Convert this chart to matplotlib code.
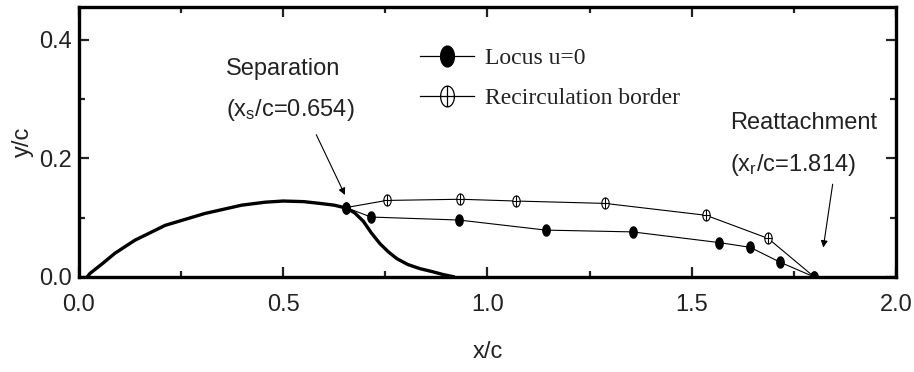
import numpy as np
import matplotlib
matplotlib.use('Agg')
import matplotlib.pyplot as plt
from matplotlib.path import Path
from matplotlib.lines import Line2D

plt.rcParams['font.family'] = ['Liberation Sans', 'DejaVu Sans']
plt.rcParams['mathtext.fontset'] = 'custom'
plt.rcParams['mathtext.rm'] = 'Liberation Sans'
plt.rcParams['mathtext.it'] = 'Liberation Sans'

# hump surface contour
hump_x = [0.02, 0.027, 0.06, 0.088, 0.137, 0.211, 0.308, 0.398, 0.455, 0.50, 0.55, 0.59,
          0.625, 0.655, 0.675, 0.696, 0.716, 0.737, 0.758, 0.778, 0.805, 0.835, 0.865, 0.892, 0.92]
hump_y = [0.0, 0.006, 0.024, 0.040, 0.062, 0.087, 0.107, 0.121, 0.126, 0.128, 0.127, 0.124,
          0.121, 0.116, 0.108, 0.094, 0.074, 0.056, 0.042, 0.031, 0.021, 0.014, 0.009, 0.004, 0.0]

# locus u=0 (filled symbols)
locus_x = [0.654, 0.715, 0.930, 1.143, 1.355, 1.567, 1.643, 1.716, 1.80]
locus_y = [0.117, 0.101, 0.096, 0.079, 0.076, 0.058, 0.050, 0.025, 0.0]

# recirculation border (open crossed symbols)
recirc_x = [0.654, 0.753, 0.933, 1.070, 1.288, 1.535, 1.687, 1.80]
recirc_y = [0.117, 0.129, 0.131, 0.128, 0.124, 0.104, 0.065, 0.0]

# elliptical markers, taller than wide
t = np.linspace(0, 2 * np.pi, 41)
ell = np.column_stack([0.33 * np.cos(t), 0.5 * np.sin(t)])
ell_path = Path(ell, closed=True)
cross_verts = np.vstack([ell, [[0, -0.5], [0, 0.5], [-0.33, 0], [0.33, 0]]])
cross_codes = ([Path.MOVETO] + [Path.LINETO] * 40 +
               [Path.MOVETO, Path.LINETO, Path.MOVETO, Path.LINETO])
cross_path = Path(cross_verts, cross_codes)

fig = plt.figure(figsize=(9.14, 3.72), dpi=100)
ax = fig.add_axes([0.0864, 0.2554, 0.8939, 0.7258])

ax.plot(hump_x, hump_y, color='black', lw=2.4, solid_capstyle='butt', zorder=3)
ax.plot(recirc_x, recirc_y, color='black', lw=0.8, marker=cross_path, ms=8,
        mfc='white', mec='black', mew=0.8, zorder=4)
ax.plot(locus_x, locus_y, color='black', lw=0.8, marker=ell_path, ms=8,
        mfc='black', mec='black', zorder=5)

ax.set_xlim(0, 2.0)
ax.set_ylim(0, 0.455)
ax.set_xticks([0.0, 0.5, 1.0, 1.5, 2.0])
ax.set_xticks([0.25, 0.75, 1.25, 1.75], minor=True)
ax.set_yticks([0.0, 0.2, 0.4])
ax.set_yticks([0.1, 0.3], minor=True)
ax.xaxis.set_major_formatter(plt.FormatStrFormatter('%.1f'))
ax.yaxis.set_major_formatter(plt.FormatStrFormatter('%.1f'))
ax.tick_params(which='both', direction='in', top=True, right=True, width=1.6, labelsize=17,
               color='#222222', labelcolor='#222222')
ax.tick_params(which='major', length=7)
ax.tick_params(which='minor', length=4)
ax.tick_params(axis='x', pad=12)
ax.tick_params(axis='y', pad=5)
for s in ax.spines.values():
    s.set_linewidth(2.4)

ax.set_xlabel('x/c', fontsize=17, labelpad=18, color='#222222')
ax.set_ylabel('y/c', fontsize=17, labelpad=4, color='#222222')

ax.annotate('', xy=(0.654, 0.134), xytext=(0.578, 0.244),
            arrowprops=dict(arrowstyle='-|>', color='black', lw=0.8, mutation_scale=10))
ax.text(0.359, 0.340, 'Separation', fontsize=17, color='#222222', va='baseline')
ax.text(0.359, 0.272, r'(x$_\mathrm{s}$/c=0.654)', fontsize=17, color='#222222', va='baseline')

ax.annotate('', xy=(1.821, 0.045), xytext=(1.846, 0.161),
            arrowprops=dict(arrowstyle='-|>', color='black', lw=0.8, mutation_scale=10))
ax.text(1.594, 0.25, 'Reattachment', fontsize=17, color='#222222', va='baseline')
ax.text(1.594, 0.178, r'(x$_\mathrm{r}$/c=1.814)', fontsize=17, color='#222222', va='baseline')

h1 = Line2D([], [], color='black', lw=0.9, marker=ell_path, ms=15, mfc='black', mec='black')
h2 = Line2D([], [], color='black', lw=0.9, marker=cross_path, ms=15, mfc='white',
            mec='black', mew=0.9)
ax.legend([h1, h2], ['Locus u=0', 'Recirculation border'],
          loc='upper left', bbox_to_anchor=(0.417, 0.85), frameon=False,
          prop={'family': 'Liberation Serif', 'size': 17}, handlelength=2.3,
          handletextpad=0.45, labelspacing=0.8, borderpad=0, borderaxespad=0,
          labelcolor='#222222')

fig.savefig('out.png', dpi=100)
